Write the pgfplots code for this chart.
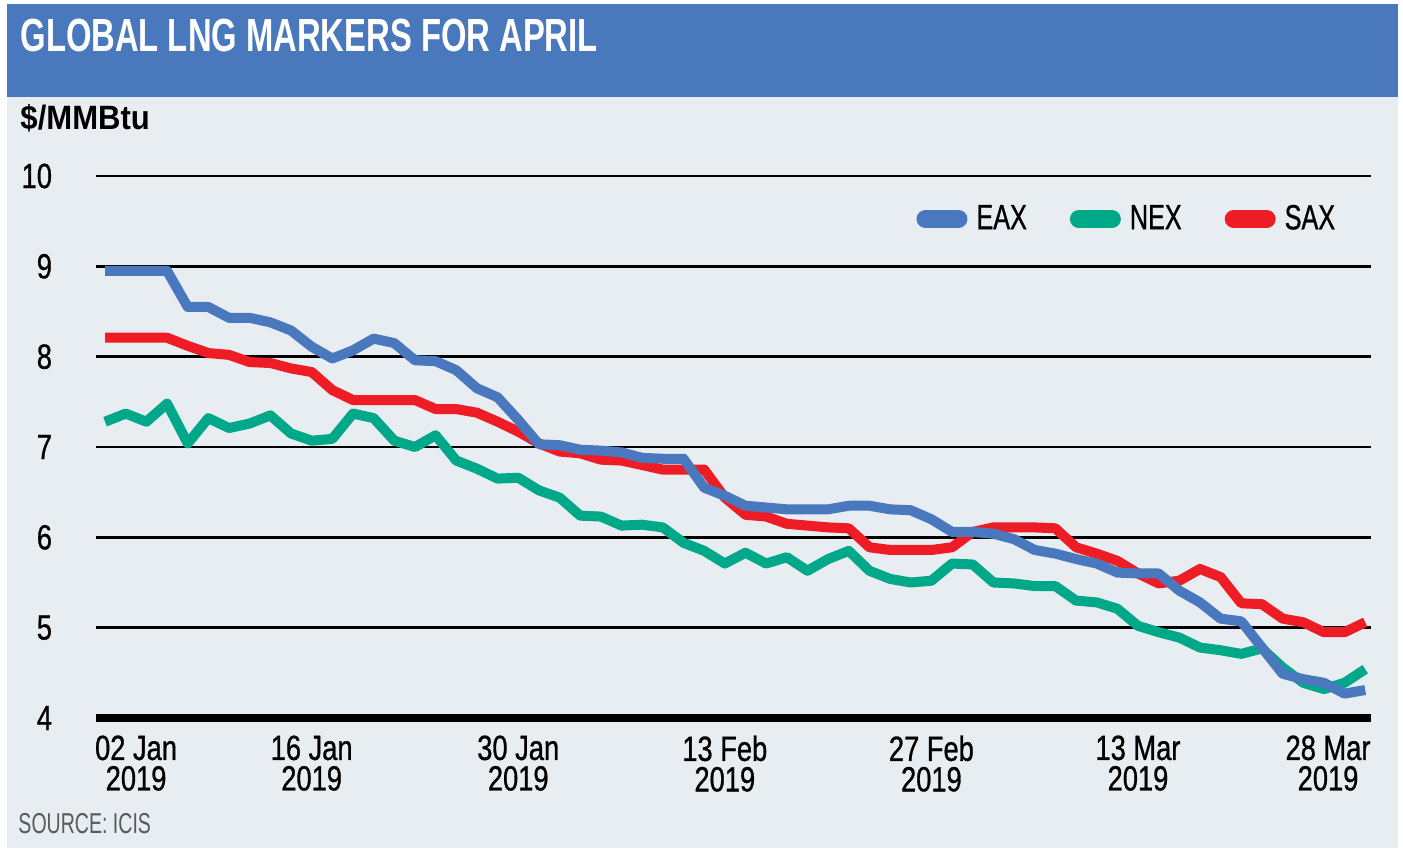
\documentclass[border=0pt]{standalone}
\usepackage{fontspec}
\setmainfont{Liberation Sans}
\newfontfamily\titlefont{Liberation Sans}[FakeStretch=0.705]
\newfontfamily\tickfont{Liberation Sans}[FakeStretch=0.78, FakeBold=0.8]
\newfontfamily\legfont{Liberation Sans}[FakeStretch=0.72, FakeBold=0.8]
\newfontfamily\unitfont{Liberation Sans}[FakeStretch=0.92]
\newfontfamily\srcfont{Liberation Sans}[FakeStretch=0.68]
\usepackage{pgfplots}
\pgfplotsset{compat=1.18}
\definecolor{bgc}{HTML}{E8EDF2}
\definecolor{barc}{HTML}{4A78BC}
\definecolor{eax}{HTML}{4A78BE}
\definecolor{nex}{HTML}{00A88A}
\definecolor{sax}{HTML}{EE1C25}
\definecolor{srcgray}{HTML}{5A5A5A}

\pgfplotstableread{
i eax nex sax
0 8.95 7.28 8.21
1 8.95 7.37 8.21
2 8.95 7.28 8.21
3 8.95 7.48 8.21
4 8.55 7.04 8.12
5 8.55 7.32 8.04
6 8.43 7.21 8.02
7 8.43 7.26 7.94
8 8.38 7.35 7.93
9 8.29 7.15 7.87
10 8.11 7.07 7.83
11 7.98 7.09 7.63
12 8.07 7.37 7.52
13 8.20 7.32 7.52
14 8.15 7.07 7.52
15 7.96 7.00 7.52
16 7.95 7.13 7.42
17 7.85 6.85 7.42
18 7.65 6.76 7.38
19 7.55 6.65 7.28
20 7.30 6.66 7.17
21 7.03 6.52 7.04
22 7.02 6.44 6.95
23 6.97 6.24 6.93
24 6.96 6.23 6.86
25 6.94 6.13 6.85
26 6.88 6.14 6.80
27 6.87 6.11 6.75
28 6.87 5.94 6.75
29 6.55 5.85 6.75
30 6.46 5.71 6.44
31 6.35 5.83 6.25
32 6.33 5.71 6.23
33 6.31 5.78 6.15
34 6.31 5.63 6.13
35 6.31 5.76 6.11
36 6.35 5.85 6.10
37 6.35 5.63 5.89
38 6.31 5.54 5.86
39 6.30 5.50 5.86
40 6.20 5.52 5.86
41 6.06 5.71 5.89
42 6.06 5.70 6.06
43 6.04 5.50 6.11
44 5.98 5.49 6.11
45 5.86 5.46 6.11
46 5.82 5.46 6.10
47 5.76 5.30 5.89
48 5.71 5.28 5.82
49 5.61 5.21 5.74
50 5.60 5.02 5.60
51 5.60 4.95 5.49
52 5.41 4.89 5.52
53 5.28 4.78 5.65
54 5.10 4.75 5.56
55 5.07 4.71 5.27
56 4.78 4.77 5.26
57 4.49 4.56 5.10
58 4.43 4.39 5.06
59 4.39 4.32 4.95
60 4.27 4.39 4.95
61 4.31 4.54 5.06
}\lngdata

\begin{document}
\begin{tikzpicture}
\useasboundingbox (0pt,0pt) rectangle (561.2pt,340.8pt);
\fill[white] (0pt,0pt) rectangle (561.2pt,340.8pt);
\fill[bgc] (2.8pt,1.6pt) rectangle (559.2pt,339.2pt);
\fill[barc] (2.8pt,302pt) rectangle (559.2pt,339.2pt);
\node[anchor=base west, inner sep=0pt, text=white] at (8pt,320pt) {\titlefont\bfseries\fontsize{18.6}{20}\selectfont GLOBAL LNG MARKERS FOR APRIL};
\node[anchor=base west, inner sep=0pt] at (8pt,289pt) {\unitfont\bfseries\fontsize{13.5}{14}\selectfont \$/MMBtu};
\node[anchor=base west, inner sep=0pt, text=srcgray] at (7.2pt,7.6pt) {\srcfont\fontsize{11.5}{12}\selectfont SOURCE: ICIS};
\begin{axis}[
  at={(38.4pt,53.6pt)}, anchor=south west,
  scale only axis, width=510pt, height=216.8pt,
  xmin=-0.44, xmax=61.28, ymin=4, ymax=10,
  axis line style={draw=none},
  tick style={draw=none}, major tick length=0pt,
  ytick={4,5,6,7,8,9,10},
  ymajorgrids, major grid style={black, line width=0.95pt},
  extra y ticks={4}, extra y tick labels={},
  extra y tick style={grid=major, major grid style={black, line width=3.2pt}},
  /pgf/number format/assume math mode=true,
  yticklabel style={font=\tickfont\fontsize{14}{14}\selectfont, anchor=east, inner sep=0pt, xshift=-17.4pt},
  xtick={1.5,10,20,30,40,50,59.2},
  xticklabels={{02 Jan\\2019},{16 Jan\\2019},{30 Jan\\2019},{13 Feb\\2019},{27 Feb\\2019},{13 Mar\\2019},{28 Mar\\2019}},
  xticklabel style={font=\tickfont\fontsize{14}{12.2}\selectfont, align=center, anchor=north, inner sep=0pt, yshift=-6.8pt},
  legend columns=3, reverse legend,
  legend style={at={(0.6431,0.9207)}, anchor=west, draw=none, fill=none, inner sep=0pt,
    font=\legfont\fontsize{14}{14}\selectfont,
    nodes={inner sep=0pt},
    /tikz/every odd column/.append style={column sep=3.6pt},
    /tikz/every even column/.append style={column sep=17.2pt}},
  legend image code/.code={\draw[#1, line width=7.2pt, line cap=round] (3.6pt,0pt) -- (16.8pt,0pt);},
  clip=false,
]
\addplot[sax, line width=4pt, line join=round, no markers] table[x=i, y=sax] {\lngdata};
\addlegendentry{SAX}
\addplot[nex, line width=4pt, line join=round, no markers] table[x=i, y=nex] {\lngdata};
\addlegendentry{NEX}
\addplot[eax, line width=4pt, line join=round, no markers] table[x=i, y=eax] {\lngdata};
\addlegendentry{EAX}
\end{axis}
\end{tikzpicture}
\end{document}
